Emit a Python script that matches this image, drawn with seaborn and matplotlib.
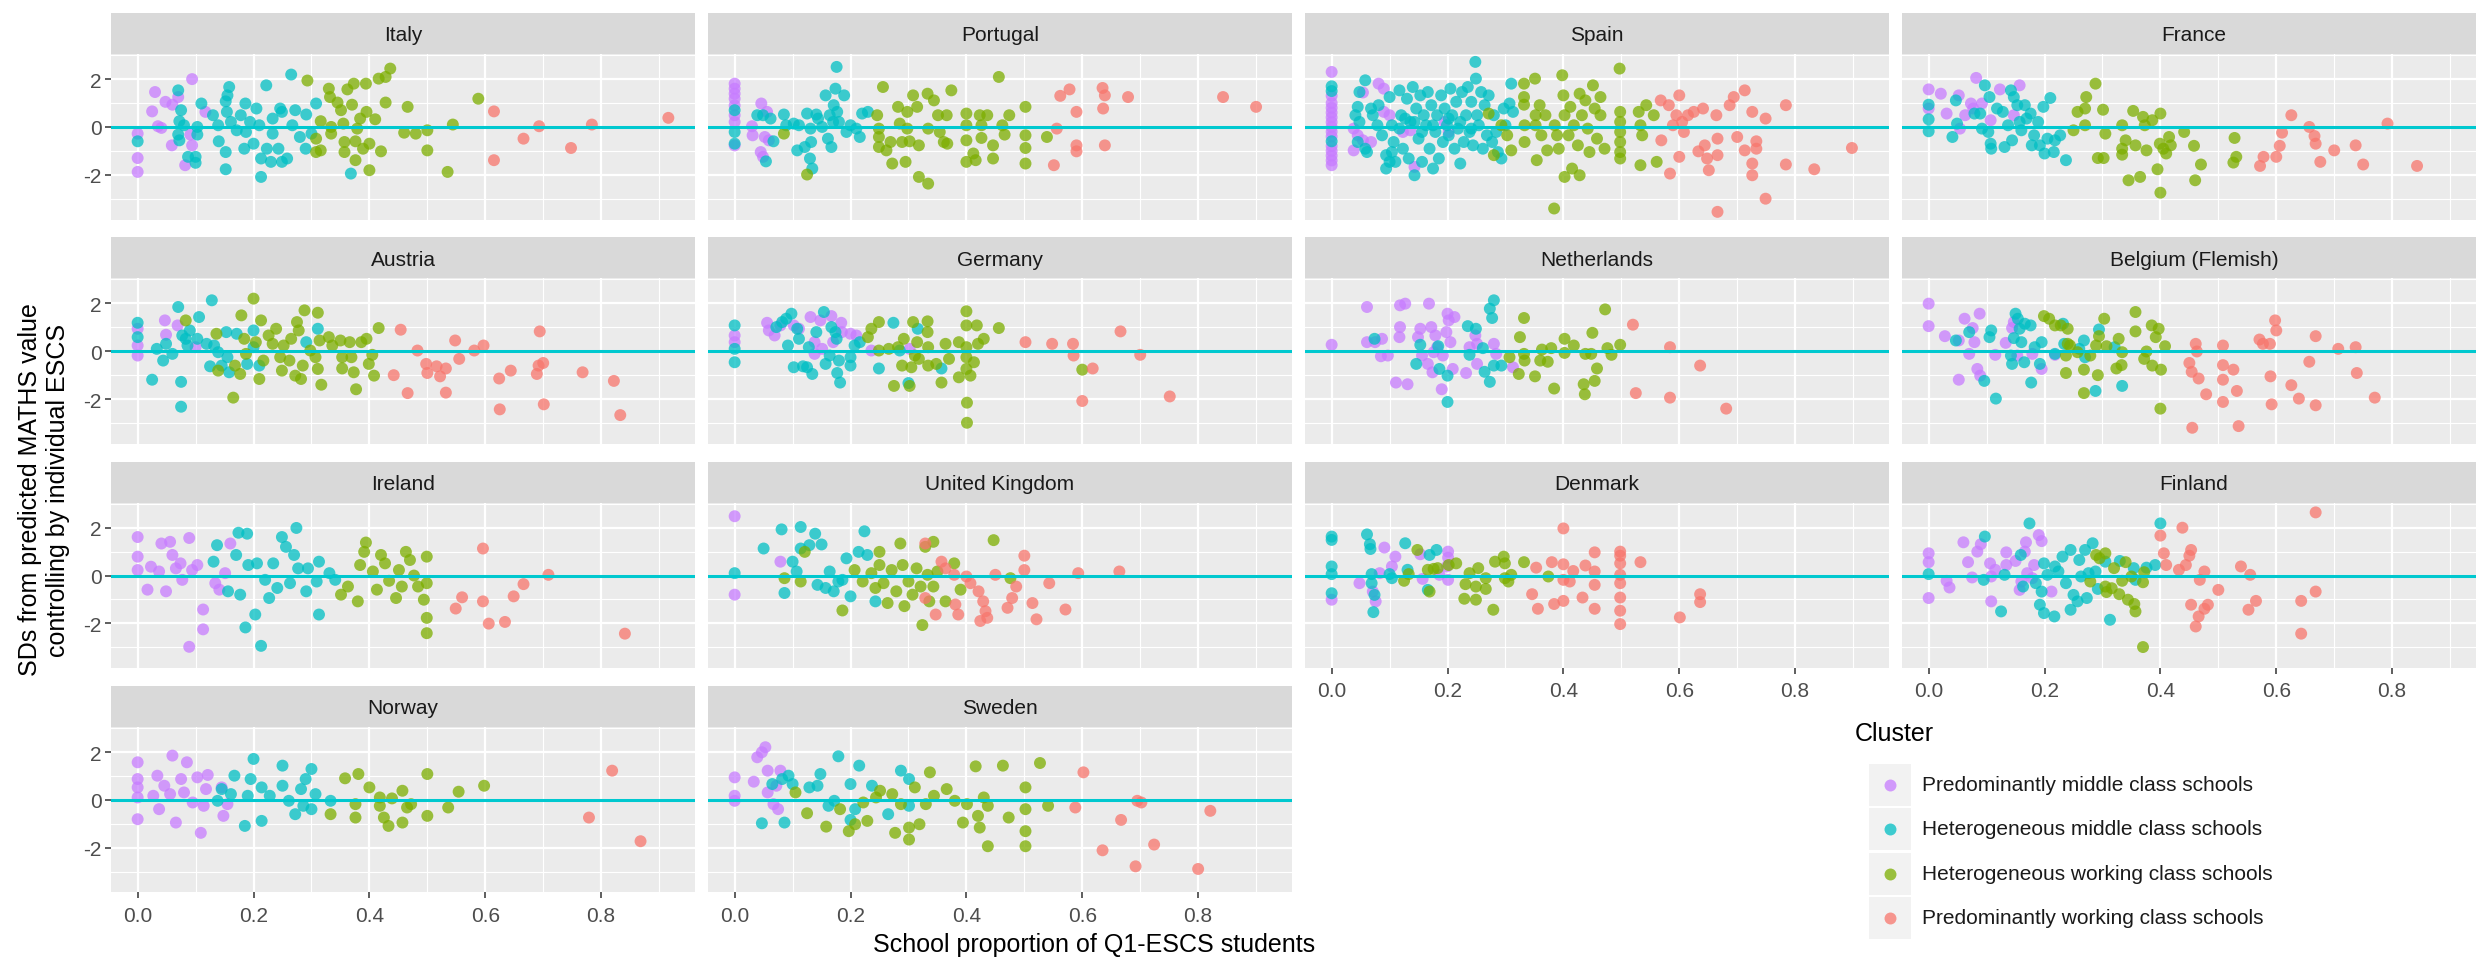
import numpy as np
import pandas as pd
import matplotlib
matplotlib.use("Agg")
import matplotlib.pyplot as plt
import seaborn as sns

# clusters (legend order) and their colours
CLUSTERS = ["Predominantly middle class schools", "Heterogeneous middle class schools",
            "Heterogeneous working class schools", "Predominantly working class schools"]
COLOURS = ["#C77CFF", "#00BFC4", "#7CAE00", "#F8766D"]

COUNTRIES = ["Italy", "Portugal", "Spain", "France", "Austria", "Germany", "Netherlands",
             "Belgium (Flemish)", "Ireland", "United Kingdom", "Denmark", "Finland",
             "Norway", "Sweden"]

X_TICKS = [0.0, 0.2, 0.4, 0.6, 0.8]
X_TICK_LABELS = ["0.0", "0.2", "0.4", "0.6", "0.8"]
Y_TICKS = [-2, 0, 2]
Y_TICK_LABELS = ["-2", "0", "2"]

# ---- points: [school proportion Q1, SD residual] ----
ITA_PMC = [[0.094,2.0],[0.03,1.46],[0.048,1.05],[0.06,0.93],[0.07,1.25],[0.025,0.65],[0.035,0.03],[0.041,-0.04],[0.0,-0.28],[0.0,-1.3],[0.0,-1.88],[0.059,-0.77],[0.082,-1.6],[0.091,-0.32],[0.094,-0.77],[0.117,0.63]]
ITA_HMC = [[0.0,-0.6],[0.07,1.53],[0.075,0.7],[0.072,0.24],[0.08,0.07],[0.07,-0.32],[0.072,-0.56],[0.087,-1.25],[0.1,-1.25],[0.1,-1.5],[0.103,0.0],[0.103,-0.32],[0.11,0.98],[0.13,0.49],[0.139,0.07],[0.14,-0.6],[0.152,1.07],[0.154,0.63],[0.152,-1.05],[0.152,-1.77],[0.158,1.67],[0.161,0.21],[0.155,1.32],[0.171,-0.14],[0.178,0.49],[0.184,-0.91],[0.186,0.98],[0.187,-0.21],[0.194,0.21],[0.2,-0.7],[0.205,0.77],[0.21,0.07],[0.213,-1.32],[0.213,-2.09],[0.222,1.74],[0.223,-0.91],[0.23,-1.46],[0.233,-0.28],[0.243,-0.91],[0.249,0.63],[0.249,-1.46],[0.258,-1.32],[0.265,2.19],[0.267,0.07],[0.272,0.7],[0.28,-0.42],[0.29,-0.91],[0.291,0.52],[0.3,-0.28],[0.308,0.98],[0.368,-1.95],[0.233,0.35],[0.246,0.77]]
ITA_HWC = [[0.293,1.94],[0.308,-1.05],[0.316,-0.98],[0.308,-0.49],[0.316,0.24],[0.33,1.6],[0.332,1.25],[0.334,0.0],[0.334,-0.28],[0.345,1.02],[0.351,0.7],[0.355,0.14],[0.357,-0.63],[0.357,-1.05],[0.362,1.57],[0.37,0.93],[0.373,1.81],[0.376,-1.39],[0.376,-0.6],[0.379,-0.07],[0.384,0.35],[0.389,-0.91],[0.394,1.81],[0.395,0.63],[0.4,-0.7],[0.4,-1.81],[0.41,0.32],[0.416,2.02],[0.428,2.09],[0.436,2.44],[0.428,1.02],[0.42,-1.02],[0.46,-0.24],[0.466,0.84],[0.48,-0.28],[0.5,-0.14],[0.5,-0.98],[0.535,-1.88],[0.544,0.1],[0.588,1.18]]
ITA_PWC = [[0.615,0.65],[0.615,-1.39],[0.666,-0.49],[0.693,0.03],[0.748,-0.88],[0.784,0.1],[0.916,0.38]]

POR_PMC = [[0.0,1.81],[0.0,1.6],[0.0,1.39],[0.0,1.18],[0.0,0.9],[0.0,0.49],[0.0,0.21],[0.0,-0.77],[0.03,0.03],[0.031,-0.35],[0.046,0.98],[0.056,0.63],[0.052,-0.42],[0.059,-0.56],[0.045,-1.05],[0.049,-1.25]]
POR_HMC = [[0.0,0.7],[0.0,-0.21],[0.0,-0.7],[0.054,-1.44],[0.039,0.49],[0.049,0.49],[0.062,0.35],[0.067,-0.6],[0.085,0.52],[0.089,0.07],[0.102,0.14],[0.108,-0.98],[0.111,0.07],[0.121,-0.84],[0.125,0.56],[0.13,-1.32],[0.132,-0.63],[0.134,-1.74],[0.131,-0.07],[0.141,0.52],[0.151,0.0],[0.157,1.32],[0.161,-0.49],[0.164,0.49],[0.167,-0.84],[0.171,0.91],[0.174,1.6],[0.176,2.51],[0.177,0.63],[0.18,0.21],[0.189,1.32],[0.193,-0.21],[0.2,0.07],[0.21,-0.07],[0.216,-0.42],[0.22,0.56],[0.23,0.63],[0.17,0.21],[0.144,0.35]]
POR_HWC = [[0.085,-0.28],[0.125,-1.99],[0.246,0.49],[0.249,-0.07],[0.249,-0.42],[0.249,-0.84],[0.256,1.67],[0.262,-0.98],[0.269,-0.63],[0.272,-1.53],[0.282,0.84],[0.285,0.14],[0.289,-0.63],[0.295,-1.46],[0.298,0.63],[0.298,-0.07],[0.302,-0.6],[0.308,1.32],[0.315,0.84],[0.318,-0.77],[0.318,-2.09],[0.334,-2.37],[0.334,-0.07],[0.333,1.39],[0.344,1.11],[0.351,0.49],[0.354,-0.21],[0.361,-0.63],[0.366,0.49],[0.374,1.53],[0.367,-0.7],[0.4,0.56],[0.4,0.07],[0.4,-0.56],[0.4,-1.46],[0.412,-1.11],[0.416,-1.39],[0.423,0.49],[0.426,0.07],[0.426,-0.46],[0.436,0.49],[0.446,-0.77],[0.446,-1.32],[0.456,2.09],[0.462,0.07],[0.466,-0.32],[0.474,0.49],[0.502,0.84],[0.502,-0.35],[0.502,-0.88],[0.502,-1.53],[0.539,-0.42]]
POR_PWC = [[0.551,-1.6],[0.556,-0.07],[0.562,1.3],[0.578,1.57],[0.59,0.63],[0.59,-0.77],[0.59,-1.02],[0.635,1.63],[0.639,1.32],[0.636,0.77],[0.639,-0.77],[0.679,1.25],[0.843,1.25],[0.9,0.84]]

ESP_PMC = [[0.0,2.3],[0.0,1.3],[0.0,1.0],[0.0,0.8],[0.0,0.6],[0.0,0.4],[0.0,0.2],[0.0,0.0],[0.0,-0.2],[0.0,-0.4],[0.0,-0.8],[0.0,-1.0],[0.0,-1.2],[0.0,-1.4],[0.0,-1.6],[0.054,1.44],[0.081,1.81],[0.09,1.6],[0.038,-0.07],[0.045,-0.35],[0.054,-0.56],[0.068,-0.63],[0.038,-0.98],[0.09,0.63],[0.1,0.49],[0.123,-0.21],[0.136,-0.14],[0.143,-1.67],[0.195,0.21],[0.202,-0.21]]
ESP_HMC = [[0.0,1.7],[0.0,1.5],[0.0,-0.6],[0.058,1.95],[0.048,1.46],[0.045,0.84],[0.041,0.49],[0.048,0.21],[0.045,-0.63],[0.058,-0.91],[0.061,-1.05],[0.071,0.49],[0.079,0.07],[0.087,-0.35],[0.094,-1.18],[0.094,-1.74],[0.1,1.25],[0.104,0.07],[0.107,-0.63],[0.11,-1.46],[0.117,1.53],[0.12,0.49],[0.123,-0.91],[0.13,1.18],[0.133,-1.32],[0.136,0.21],[0.14,1.67],[0.143,-2.02],[0.146,0.77],[0.15,-0.49],[0.153,1.32],[0.156,-1.46],[0.159,0.49],[0.163,0.07],[0.166,1.46],[0.169,-0.91],[0.172,0.91],[0.175,-1.74],[0.179,-0.21],[0.182,0.49],[0.185,-1.32],[0.189,1.32],[0.192,-0.63],[0.195,0.77],[0.199,0.07],[0.202,-0.35],[0.205,1.6],[0.208,0.49],[0.212,-0.91],[0.215,1.05],[0.218,-0.07],[0.222,-1.53],[0.225,1.46],[0.228,-0.63],[0.232,0.49],[0.235,1.67],[0.238,-0.21],[0.241,1.05],[0.244,-0.77],[0.248,2.72],[0.249,2.02],[0.251,0.49],[0.254,0.07],[0.258,1.46],[0.261,-0.91],[0.264,0.91],[0.268,-0.35],[0.271,1.32],[0.277,-0.63],[0.28,0.49],[0.284,-0.21],[0.287,-1.05],[0.293,-1.32],[0.297,0.77],[0.3,0.07],[0.307,0.98],[0.31,1.81],[0.313,0.63],[0.068,0.77],[0.081,0.91],[0.117,-0.07],[0.127,0.35],[0.143,0.21],[0.156,-0.21],[0.175,0.07],[0.202,0.35],[0.222,0.21],[0.241,-0.07],[0.104,-1.05],[0.1,-1.46]]
ESP_HWC = [[0.271,0.56],[0.28,-1.18],[0.293,0.07],[0.303,-0.35],[0.31,-0.98],[0.332,1.81],[0.332,1.25],[0.332,0.93],[0.333,0.07],[0.333,-0.63],[0.351,2.02],[0.352,0.49],[0.352,0.07],[0.354,-1.39],[0.359,0.91],[0.362,-0.35],[0.369,0.49],[0.372,-0.98],[0.384,-3.41],[0.385,0.07],[0.389,-0.35],[0.392,-0.91],[0.398,2.16],[0.4,1.32],[0.402,0.49],[0.402,-2.09],[0.409,-0.35],[0.412,0.84],[0.415,-1.74],[0.418,0.07],[0.425,-0.77],[0.428,1.39],[0.428,-2.02],[0.432,0.49],[0.438,1.11],[0.442,-0.07],[0.445,-1.05],[0.451,1.74],[0.454,0.77],[0.458,-0.49],[0.464,1.25],[0.464,0.49],[0.471,-0.91],[0.497,2.44],[0.498,0.63],[0.498,0.21],[0.498,-0.21],[0.498,-0.63],[0.498,-1.05],[0.498,-1.32],[0.53,0.63],[0.533,0.07],[0.533,-1.6],[0.536,-0.35],[0.543,0.91],[0.556,0.49],[0.561,-1.46]]
ESP_PWC = [[0.568,1.11],[0.569,-0.56],[0.582,0.91],[0.584,-1.95],[0.589,0.07],[0.595,0.49],[0.6,1.32],[0.6,-1.25],[0.605,0.21],[0.608,-0.21],[0.615,0.49],[0.625,0.63],[0.633,-1.02],[0.641,0.77],[0.644,-0.77],[0.648,-1.32],[0.651,-1.81],[0.664,0.49],[0.666,-0.49],[0.666,-1.18],[0.666,-3.55],[0.687,0.91],[0.694,1.25],[0.7,-0.42],[0.713,1.53],[0.713,-0.98],[0.726,0.63],[0.726,-1.53],[0.726,-2.02],[0.733,-0.6],[0.733,-0.91],[0.749,0.35],[0.749,-3.0],[0.784,0.91],[0.784,-1.57],[0.833,-1.77],[0.898,-0.88]]

FRA_PMC = [[0.0,1.57],[0.0,0.77],[0.021,1.39],[0.031,0.56],[0.052,1.32],[0.054,-0.07],[0.063,0.49],[0.073,0.98],[0.082,2.05],[0.092,0.98],[0.107,0.28],[0.123,1.57],[0.157,1.74],[0.147,0.49],[0.077,0.77]]
FRA_HMC = [[0.0,0.93],[0.0,0.32],[0.0,-0.18],[0.041,-0.42],[0.047,1.11],[0.049,0.14],[0.089,0.56],[0.092,-0.07],[0.097,1.74],[0.103,-0.21],[0.105,1.25],[0.107,-0.7],[0.108,-0.91],[0.118,0.77],[0.128,0.63],[0.131,-0.84],[0.137,0.07],[0.142,1.53],[0.144,-0.56],[0.147,1.25],[0.153,0.91],[0.157,0.21],[0.16,-0.14],[0.166,0.91],[0.169,0.35],[0.176,0.56],[0.178,-0.77],[0.182,-0.35],[0.189,0.21],[0.192,-0.77],[0.198,0.84],[0.2,-1.11],[0.205,-0.49],[0.21,1.21],[0.216,-1.05],[0.218,-0.56],[0.227,-0.35],[0.237,-1.39],[0.079,0.56]]
FRA_HWC = [[0.25,-0.14],[0.257,0.63],[0.27,0.77],[0.27,0.07],[0.272,1.25],[0.288,1.81],[0.292,-1.3],[0.301,0.72],[0.302,-1.3],[0.305,-0.28],[0.334,0.07],[0.334,-0.91],[0.334,-1.16],[0.34,-0.56],[0.345,-2.23],[0.353,0.67],[0.357,-0.77],[0.365,-2.09],[0.37,0.42],[0.373,0.07],[0.376,-0.98],[0.386,0.28],[0.395,-1.77],[0.399,-0.7],[0.4,0.56],[0.4,-2.75],[0.405,-0.91],[0.41,-1.11],[0.415,-0.42],[0.418,-0.77],[0.441,-0.21],[0.458,-0.79],[0.46,-2.23],[0.47,-1.57],[0.528,-0.46],[0.531,-1.25],[0.526,-1.49]]
FRA_PWC = [[0.572,-1.63],[0.578,-1.25],[0.6,-1.25],[0.606,-0.79],[0.61,-0.24],[0.626,0.49],[0.657,0.0],[0.666,-0.38],[0.668,-0.7],[0.676,-1.46],[0.7,-0.98],[0.737,-0.77],[0.75,-1.57],[0.792,0.14],[0.843,-1.63]]

AUT_PMC = [[0.0,0.94],[0.0,0.24],[0.0,-0.18],[0.047,1.29],[0.049,0.69],[0.069,1.08],[0.1,0.17]]
AUT_HMC = [[0.0,1.19],[0.0,0.59],[0.025,-1.19],[0.033,0.1],[0.044,-0.39],[0.049,0.31],[0.06,-0.11],[0.07,1.85],[0.075,-1.28],[0.075,-2.32],[0.077,0.66],[0.086,0.24],[0.09,0.87],[0.103,0.52],[0.106,1.43],[0.119,0.31],[0.125,-0.63],[0.128,2.13],[0.132,0.24],[0.139,-0.04],[0.145,-0.6],[0.153,0.8],[0.155,-0.25],[0.158,-0.88],[0.171,0.73],[0.189,-0.53],[0.2,0.87],[0.2,0.17],[0.21,-0.6],[0.291,0.38],[0.311,0.94],[0.083,0.52]]
AUT_HWC = [[0.083,1.29],[0.136,0.73],[0.139,-0.81],[0.165,-1.94],[0.168,-0.6],[0.177,-0.95],[0.179,1.5],[0.184,0.52],[0.187,-0.11],[0.2,2.2],[0.204,0.38],[0.21,-1.16],[0.213,1.29],[0.217,-0.39],[0.226,0.66],[0.233,0.31],[0.239,0.94],[0.246,-0.25],[0.249,-0.81],[0.252,0.24],[0.262,-0.39],[0.265,0.52],[0.272,-1.02],[0.275,1.22],[0.278,0.87],[0.282,-1.16],[0.285,-0.6],[0.288,1.71],[0.298,0.03],[0.307,-0.25],[0.311,1.61],[0.311,-0.74],[0.314,0.45],[0.317,-1.4],[0.33,0.59],[0.336,0.24],[0.35,0.45],[0.353,-0.25],[0.353,-0.72],[0.366,0.38],[0.369,-0.25],[0.373,-0.88],[0.377,-1.59],[0.386,0.38],[0.395,0.52],[0.399,-0.53],[0.405,-0.15],[0.408,-1.02],[0.416,0.97]]
AUT_PWC = [[0.442,-1.0],[0.454,0.9],[0.466,-1.75],[0.483,0.03],[0.498,-0.53],[0.5,-0.91],[0.516,-0.63],[0.522,-1.05],[0.532,-0.72],[0.532,-1.73],[0.548,0.45],[0.555,-0.32],[0.581,0.03],[0.597,0.24],[0.624,-1.14],[0.625,-2.43],[0.644,-0.81],[0.689,-0.95],[0.692,-0.6],[0.694,0.83],[0.7,-0.49],[0.701,-2.22],[0.768,-0.88],[0.822,-1.24],[0.833,-2.67]]

DEU_PMC = [[0.0,0.66],[0.0,0.38],[0.056,1.19],[0.059,0.87],[0.069,0.66],[0.079,1.08],[0.102,1.08],[0.111,0.94],[0.131,1.43],[0.138,0.38],[0.138,-0.11],[0.148,1.29],[0.151,0.1],[0.167,1.47],[0.17,0.38],[0.184,1.19],[0.185,0.8],[0.2,0.73],[0.21,0.66],[0.236,0.03],[0.302,0.1]]
DEU_HMC = [[0.0,1.08],[0.0,0.1],[0.0,-0.46],[0.072,1.01],[0.082,1.22],[0.089,1.36],[0.092,0.24],[0.098,1.57],[0.102,-0.67],[0.108,0.94],[0.111,0.52],[0.118,-0.63],[0.125,-0.67],[0.128,0.17],[0.134,-0.95],[0.141,0.8],[0.154,1.64],[0.157,-0.53],[0.164,-0.18],[0.167,1.01],[0.174,0.8],[0.176,0.52],[0.177,-0.91],[0.18,-0.39],[0.182,-1.31],[0.2,-0.25],[0.2,-0.6],[0.207,0.24],[0.216,0.38],[0.249,-0.72],[0.274,1.19],[0.285,0.03],[0.3,-1.33],[0.316,0.94],[0.357,-0.72]]
DEU_HWC = [[0.23,0.59],[0.236,0.94],[0.249,1.22],[0.249,0.03],[0.266,0.1],[0.275,-1.45],[0.282,0.17],[0.289,-0.6],[0.292,0.52],[0.302,-1.45],[0.305,-0.67],[0.308,1.22],[0.311,-0.18],[0.315,0.38],[0.318,-0.32],[0.333,1.25],[0.333,0.8],[0.334,0.17],[0.334,-0.6],[0.348,-0.53],[0.357,-1.31],[0.364,0.31],[0.37,-0.32],[0.387,0.38],[0.387,-1.09],[0.4,1.67],[0.4,1.08],[0.4,0.17],[0.4,-0.25],[0.4,-0.74],[0.401,-2.15],[0.401,-2.99],[0.407,-1.02],[0.413,-0.46],[0.418,1.08],[0.42,0.31],[0.43,0.52],[0.456,0.97],[0.6,-0.77]]
DEU_PWC = [[0.502,0.38],[0.548,0.31],[0.584,0.31],[0.585,-0.18],[0.6,-2.08],[0.618,-0.72],[0.666,0.83],[0.7,-0.15],[0.751,-1.89]]

NLD_PMC = [[0.0,0.27],[0.061,1.85],[0.061,0.38],[0.075,0.38],[0.087,0.52],[0.085,-0.21],[0.097,-0.18],[0.111,-1.31],[0.117,0.59],[0.118,1.01],[0.118,1.92],[0.127,1.99],[0.131,-1.38],[0.149,0.59],[0.153,0.94],[0.156,-0.18],[0.166,-0.53],[0.168,1.99],[0.172,1.01],[0.174,-0.88],[0.179,0.66],[0.182,0.17],[0.19,-1.59],[0.192,-0.18],[0.198,0.8],[0.2,1.57],[0.202,1.29],[0.205,0.38],[0.209,-0.74],[0.212,1.43],[0.232,-0.91],[0.238,0.17],[0.248,0.66],[0.251,0.31],[0.251,-0.53],[0.28,0.31],[0.284,-0.11],[0.313,-0.67],[0.176,-0.04]]
NLD_HMC = [[0.074,0.52],[0.146,-0.53],[0.153,0.27],[0.184,0.21],[0.186,-0.74],[0.2,-1.02],[0.2,-2.12],[0.235,1.05],[0.238,-0.15],[0.249,0.94],[0.261,0.13],[0.264,-0.86],[0.273,-1.28],[0.273,1.78],[0.277,1.39],[0.28,2.13],[0.28,-0.6],[0.293,-0.6]]
NLD_HWC = [[0.307,-0.25],[0.323,-0.95],[0.325,0.59],[0.332,1.39],[0.332,-0.11],[0.333,-0.39],[0.351,-1.05],[0.36,-0.39],[0.363,0.07],[0.373,-0.44],[0.379,0.13],[0.384,-1.56],[0.402,0.52],[0.402,-0.07],[0.418,0.24],[0.435,-1.38],[0.437,-1.8],[0.438,-0.11],[0.448,-0.11],[0.45,0.77],[0.454,-1.24],[0.458,-0.72],[0.472,1.75],[0.476,0.13],[0.483,-0.15],[0.498,0.27]]
NLD_PWC = [[0.52,1.11],[0.525,-1.75],[0.584,0.17],[0.584,-1.94],[0.636,-0.6],[0.681,-2.4]]

BEL_PMC = [[0.0,1.99],[0.0,1.05],[0.028,0.63],[0.052,0.45],[0.052,-1.19],[0.062,1.36],[0.07,-0.11],[0.076,0.97],[0.079,0.38],[0.084,-0.74],[0.088,1.57],[0.089,-1.02],[0.115,-0.15],[0.133,0.35],[0.144,0.97],[0.147,1.22],[0.153,-0.18],[0.179,-0.11],[0.195,-0.74],[0.218,-0.15]]
BEL_HMC = [[0.047,0.45],[0.07,0.8],[0.096,-1.24],[0.105,0.59],[0.108,0.87],[0.116,-1.98],[0.142,-0.18],[0.144,-0.53],[0.147,0.55],[0.15,1.57],[0.154,1.36],[0.157,0.94],[0.16,0.38],[0.165,-0.46],[0.166,1.15],[0.176,1.08],[0.177,-1.31],[0.183,0.17],[0.192,-0.53],[0.195,0.38],[0.218,-0.11],[0.232,1.15],[0.234,0.31],[0.26,0.1],[0.268,0.45],[0.27,-0.25],[0.288,-1.66],[0.294,0.91],[0.321,0.17],[0.334,-1.45]]
BEL_HWC = [[0.199,1.47],[0.208,1.36],[0.218,1.08],[0.228,1.08],[0.237,-0.18],[0.237,-0.91],[0.24,0.94],[0.24,0.31],[0.244,0.24],[0.257,-0.04],[0.268,-0.77],[0.268,-1.75],[0.279,-0.18],[0.289,0.24],[0.292,-1.0],[0.294,0.63],[0.303,1.36],[0.307,0.21],[0.324,-0.72],[0.328,0.52],[0.333,-0.58],[0.334,-0.04],[0.357,1.64],[0.357,0.83],[0.372,-0.32],[0.376,-0.01],[0.385,1.08],[0.386,-0.6],[0.392,0.59],[0.397,0.94],[0.401,-0.77],[0.4,-2.4],[0.408,0.21]]
BEL_PWC = [[0.45,-0.49],[0.454,-0.86],[0.461,0.31],[0.463,-0.01],[0.466,-1.14],[0.455,-3.2],[0.479,-1.8],[0.508,0.24],[0.508,-0.58],[0.508,-1.19],[0.508,-2.12],[0.526,-0.77],[0.532,-1.66],[0.535,-3.13],[0.571,0.49],[0.577,0.31],[0.59,-1.05],[0.592,-2.22],[0.589,0.31],[0.598,1.29],[0.6,0.87],[0.626,-1.42],[0.639,-1.98],[0.657,-0.44],[0.668,0.63],[0.668,-2.26],[0.707,0.1],[0.737,0.17],[0.739,-0.91],[0.77,-1.94]]

IRL_PMC = [[0.0,1.61],[0.0,0.79],[0.0,0.23],[0.017,-0.59],[0.023,0.37],[0.037,0.17],[0.041,1.34],[0.049,-0.66],[0.056,1.41],[0.06,0.86],[0.066,0.3],[0.074,0.51],[0.077,-0.18],[0.089,1.57],[0.089,-2.98],[0.094,0.23],[0.103,0.44],[0.113,-2.25],[0.113,-1.42],[0.134,-0.32],[0.141,-0.59],[0.16,1.34],[0.151,0.1]]
IRL_HMC = [[0.137,1.27],[0.131,0.58],[0.156,-0.66],[0.17,0.86],[0.174,1.79],[0.177,-0.8],[0.186,-2.17],[0.189,1.75],[0.191,0.44],[0.203,-1.63],[0.206,0.51],[0.213,-2.94],[0.22,-0.18],[0.227,-0.94],[0.234,0.51],[0.241,-0.52],[0.249,1.61],[0.256,1.2],[0.263,-0.32],[0.27,0.86],[0.274,1.99],[0.277,0.3],[0.291,-0.66],[0.294,0.3],[0.309,-0.25],[0.313,-1.63],[0.313,0.58],[0.331,0.1],[0.341,-0.18]]
IRL_HWC = [[0.351,-0.8],[0.363,-0.46],[0.38,-1.08],[0.384,0.44],[0.391,0.99],[0.394,1.38],[0.406,0.17],[0.413,-0.59],[0.42,0.86],[0.427,0.51],[0.434,-0.22],[0.446,-0.94],[0.451,0.23],[0.456,-0.46],[0.463,0.99],[0.47,0.65],[0.477,0.0],[0.484,-0.46],[0.494,-1.01],[0.499,0.79],[0.499,-0.32],[0.499,-1.77],[0.499,-2.41]]
IRL_PWC = [[0.549,-1.38],[0.56,-0.91],[0.596,1.13],[0.596,-1.08],[0.606,-2.01],[0.634,-1.94],[0.649,-0.87],[0.666,-0.36],[0.709,0.03],[0.841,-2.43]]

GBR_PMC = [[0.0,2.48],[0.0,-0.8],[0.079,0.58]]
GBR_HMC = [[0.0,0.1],[0.05,1.13],[0.081,1.93],[0.086,-0.73],[0.1,0.58],[0.107,0.17],[0.114,2.03],[0.114,1.13],[0.129,1.27],[0.139,1.75],[0.143,-0.39],[0.15,1.3],[0.157,-0.52],[0.164,0.17],[0.171,-0.66],[0.186,-0.18],[0.193,0.72],[0.2,-0.87],[0.214,0.99],[0.224,1.85],[0.229,0.86],[0.243,-1.08],[0.179,-0.25]]
GBR_HWC = [[0.086,-0.11],[0.114,-0.25],[0.121,0.99],[0.186,-1.46],[0.207,0.23],[0.221,-0.25],[0.236,0.1],[0.243,-0.52],[0.25,0.99],[0.25,0.44],[0.257,-0.32],[0.264,-1.15],[0.271,0.23],[0.279,-0.66],[0.286,1.34],[0.29,0.44],[0.293,-1.28],[0.3,-0.25],[0.307,-0.8],[0.314,0.3],[0.321,-0.46],[0.324,-2.07],[0.329,1.2],[0.333,0.03],[0.336,-1.08],[0.343,1.41],[0.343,-0.46],[0.35,0.17],[0.364,-1.08],[0.379,0.51],[0.39,-0.59],[0.447,1.48],[0.476,-0.11]]
GBR_PWC = [[0.329,1.34],[0.329,-0.94],[0.347,-1.63],[0.357,0.58],[0.364,0.3],[0.379,0.03],[0.381,-1.21],[0.386,-1.63],[0.4,-0.04],[0.407,-0.32],[0.421,-0.66],[0.424,-1.9],[0.429,-1.08],[0.433,-1.49],[0.436,-1.77],[0.45,0.03],[0.471,-1.35],[0.479,-0.94],[0.486,-0.46],[0.5,0.23],[0.5,0.83],[0.514,-1.15],[0.521,-1.83],[0.543,-0.32],[0.571,-1.42],[0.593,0.1],[0.664,0.17]]

DNK_PMC = [[0.0,-1.01],[0.048,-0.32],[0.071,-0.67],[0.076,-1.08],[0.083,0.1],[0.091,1.17],[0.104,0.38],[0.11,0.79],[0.153,0.89],[0.157,-0.14],[0.186,0.03],[0.201,1.0],[0.201,0.75],[0.201,-0.18],[0.199,0.38]]
DNK_HMC = [[0.0,1.63],[0.0,1.49],[0.0,0.38],[0.0,0.06],[0.0,-0.74],[0.061,1.72],[0.066,1.31],[0.067,1.11],[0.069,0.06],[0.069,-0.32],[0.072,-1.53],[0.074,-0.81],[0.1,0.06],[0.104,-0.11],[0.127,1.35],[0.131,0.24],[0.166,-0.6],[0.169,0.86],[0.181,1.07]]
DNK_HWC = [[0.125,-0.22],[0.133,0.06],[0.148,1.07],[0.166,0.24],[0.169,-0.67],[0.176,0.28],[0.183,0.31],[0.202,0.44],[0.215,0.51],[0.229,-0.97],[0.231,-0.36],[0.238,0.1],[0.249,-1.01],[0.249,-0.46],[0.253,0.31],[0.266,-0.11],[0.266,-0.56],[0.279,-1.43],[0.282,0.58],[0.297,0.79],[0.299,0.51],[0.299,-0.11],[0.305,-0.25],[0.31,0.03],[0.332,0.56],[0.374,-0.04]]
DNK_PWC = [[0.346,-0.78],[0.353,0.33],[0.356,-1.39],[0.38,0.56],[0.384,-1.19],[0.4,1.97],[0.4,0.47],[0.4,-0.18],[0.4,-1.06],[0.411,-0.25],[0.417,0.19],[0.433,-0.92],[0.438,0.42],[0.454,0.97],[0.454,0.17],[0.454,-0.39],[0.454,-1.39],[0.498,1.0],[0.498,0.83],[0.498,0.51],[0.498,0.03],[0.498,-0.32],[0.498,-0.92],[0.498,-1.47],[0.498,-2.03],[0.533,0.56],[0.601,-1.75],[0.636,-0.78],[0.636,-1.11]]

FIN_PMC = [[0.0,0.93],[0.0,0.56],[0.0,-0.94],[0.031,-0.22],[0.036,-0.5],[0.06,1.39],[0.068,0.56],[0.075,-0.08],[0.084,1.0],[0.09,1.31],[0.106,0.51],[0.108,-1.08],[0.108,-0.04],[0.115,0.24],[0.134,0.97],[0.134,0.44],[0.15,0.61],[0.157,-0.6],[0.16,-0.25],[0.166,1.0],[0.168,1.39],[0.17,0.1],[0.182,0.44],[0.19,1.69],[0.195,1.44],[0.212,-0.67],[0.179,-0.11]]
FIN_HMC = [[0.0,0.06],[0.095,-0.18],[0.097,1.63],[0.125,-1.5],[0.131,0.03],[0.159,0.86],[0.163,-0.46],[0.174,2.18],[0.185,-0.32],[0.192,-1.22],[0.195,-0.67],[0.199,-1.57],[0.199,0.51],[0.205,0.03],[0.217,-1.71],[0.218,0.38],[0.224,0.17],[0.231,0.79],[0.237,-0.32],[0.245,1.07],[0.245,-1.43],[0.25,-0.81],[0.257,-1.08],[0.26,0.65],[0.263,-0.04],[0.27,1.07],[0.273,-0.94],[0.276,0.1],[0.283,1.35],[0.288,0.17],[0.292,-0.56],[0.305,0.58],[0.313,-1.85],[0.33,0.61],[0.354,0.31],[0.357,-0.18],[0.376,0.33],[0.391,0.44],[0.4,2.18]]
FIN_HWC = [[0.279,-0.25],[0.289,0.86],[0.295,0.72],[0.305,0.93],[0.305,-0.46],[0.307,-0.69],[0.316,-0.53],[0.32,0.31],[0.329,-0.78],[0.334,-0.22],[0.34,0.56],[0.344,-1.01],[0.35,-0.04],[0.355,-1.19],[0.357,-1.5],[0.37,-0.28],[0.372,0.14],[0.37,-2.99]]
FIN_PWC = [[0.4,1.67],[0.406,0.93],[0.41,0.44],[0.432,0.24],[0.438,2.0],[0.444,0.44],[0.45,0.83],[0.453,1.07],[0.453,-1.22],[0.461,-2.13],[0.466,-1.71],[0.468,-0.18],[0.476,0.17],[0.476,-1.39],[0.482,-1.22],[0.5,-0.6],[0.539,0.38],[0.552,-1.43],[0.555,0.03],[0.565,-1.06],[0.643,-1.06],[0.643,-2.43],[0.668,-0.67],[0.668,2.64]]

NOR_PMC = [[0.0,1.57],[0.0,0.87],[0.0,0.52],[0.0,0.1],[0.0,-0.81],[0.027,0.17],[0.034,1.01],[0.037,-0.39],[0.046,0.59],[0.056,0.24],[0.06,1.85],[0.066,-0.95],[0.075,0.87],[0.08,0.31],[0.085,1.57],[0.095,-0.11],[0.103,0.94],[0.109,-1.38],[0.114,-0.25],[0.118,0.45],[0.121,1.04],[0.145,0.52],[0.148,-0.67],[0.155,-0.18]]
NOR_HMC = [[0.138,-0.04],[0.145,0.45],[0.161,0.24],[0.167,1.01],[0.185,-1.09],[0.19,0.17],[0.195,0.87],[0.2,1.71],[0.214,-0.88],[0.214,0.52],[0.228,0.17],[0.25,1.43],[0.25,0.59],[0.261,-0.04],[0.272,-0.6],[0.282,0.45],[0.286,-0.25],[0.29,0.87],[0.3,1.29],[0.3,-0.39],[0.307,0.24],[0.333,-0.04]]
NOR_HWC = [[0.333,-0.6],[0.358,0.9],[0.376,-0.18],[0.376,-0.74],[0.381,1.08],[0.4,0.52],[0.418,0.1],[0.418,-0.25],[0.425,-0.74],[0.433,-1.09],[0.439,0.06],[0.457,-0.95],[0.457,0.38],[0.465,-0.32],[0.472,-0.18],[0.5,1.08],[0.5,-0.67],[0.536,-0.32],[0.554,0.34],[0.598,0.59]]
NOR_PWC = [[0.779,-0.74],[0.819,1.22],[0.868,-1.73]]

SWE_PMC = [[0.0,0.94],[0.0,0.17],[0.0,-0.04],[0.033,0.76],[0.039,1.78],[0.047,1.99],[0.053,2.2],[0.057,1.22],[0.057,0.31],[0.067,-0.18],[0.075,-0.39],[0.079,1.22],[0.072,0.59]]
SWE_HMC = [[0.047,-0.98],[0.065,0.66],[0.082,0.87],[0.086,-0.95],[0.093,1.01],[0.1,0.66],[0.129,0.52],[0.143,0.59],[0.148,1.08],[0.162,-0.25],[0.172,-0.04],[0.179,1.82],[0.2,0.66],[0.2,-0.84],[0.215,1.43],[0.208,-0.39],[0.237,0.59],[0.265,-0.6],[0.287,1.22],[0.301,0.87],[0.301,-0.25]]
SWE_HWC = [[0.105,0.31],[0.125,-0.56],[0.158,-1.12],[0.182,-0.39],[0.197,-1.31],[0.208,-1.02],[0.222,-0.11],[0.229,-0.88],[0.244,0.1],[0.251,0.38],[0.272,0.24],[0.277,-1.38],[0.287,-0.18],[0.301,-1.16],[0.301,-1.66],[0.311,0.52],[0.319,-1.02],[0.33,-0.18],[0.337,1.15],[0.344,0.17],[0.366,0.45],[0.38,-0.04],[0.401,-0.18],[0.394,-0.95],[0.416,1.4],[0.42,-0.67],[0.423,-1.16],[0.43,0.1],[0.437,-1.94],[0.437,-0.25],[0.463,1.43],[0.473,-0.74],[0.502,0.52],[0.502,-0.39],[0.502,-1.31],[0.502,-1.94],[0.527,1.54],[0.541,-0.25]]
SWE_PWC = [[0.588,-0.32],[0.602,1.15],[0.635,-2.11],[0.667,-0.84],[0.692,-2.78],[0.695,-0.04],[0.702,-0.11],[0.724,-1.87],[0.8,-2.89],[0.821,-0.46]]

PANELS = [
    [ITA_PMC, ITA_HMC, ITA_HWC, ITA_PWC], [POR_PMC, POR_HMC, POR_HWC, POR_PWC],
    [ESP_PMC, ESP_HMC, ESP_HWC, ESP_PWC], [FRA_PMC, FRA_HMC, FRA_HWC, FRA_PWC],
    [AUT_PMC, AUT_HMC, AUT_HWC, AUT_PWC], [DEU_PMC, DEU_HMC, DEU_HWC, DEU_PWC],
    [NLD_PMC, NLD_HMC, NLD_HWC, NLD_PWC], [BEL_PMC, BEL_HMC, BEL_HWC, BEL_PWC],
    [IRL_PMC, IRL_HMC, IRL_HWC, IRL_PWC], [GBR_PMC, GBR_HMC, GBR_HWC, GBR_PWC],
    [DNK_PMC, DNK_HMC, DNK_HWC, DNK_PWC], [FIN_PMC, FIN_HMC, FIN_HWC, FIN_PWC],
    [NOR_PMC, NOR_HMC, NOR_HWC, NOR_PWC], [SWE_PMC, SWE_HMC, SWE_HWC, SWE_PWC],
]


def panel_frame(groups):
    frames = []
    for name, pts in zip(CLUSTERS, groups):
        a = np.array(pts, dtype=float)
        frames.append(pd.DataFrame({"x": a[:, 0], "y": a[:, 1], "cluster": name}))
    return pd.concat(frames, ignore_index=True)


plt.rcParams["font.family"] = ["Liberation Sans", "DejaVu Sans"]

W, H = 2476, 962
fig = plt.figure(figsize=(W / 100, H / 100), dpi=100)

COL_LEFT = [111, 708, 1305, 1902]
PANEL_W = 584
PANEL_H = 165.5
ROW_TOP = [55, 279.3, 503.6, 727.9]
STRIP_H = 41
TXT = 15
PT_SIZE = 74
palette = dict(zip(CLUSTERS, COLOURS))

for i, (country, groups) in enumerate(zip(COUNTRIES, PANELS)):
    r, c = divmod(i, 4)
    left, top = COL_LEFT[c], ROW_TOP[r]
    ax = fig.add_axes([left / W, 1 - (top + PANEL_H) / H, PANEL_W / W, PANEL_H / H])
    ax.set_facecolor("#EBEBEB")
    df = panel_frame(groups)
    sns.scatterplot(data=df, x="x", y="y", hue="cluster", hue_order=CLUSTERS,
                    palette=palette, s=PT_SIZE, alpha=0.75, linewidth=0, legend=False,
                    ax=ax, zorder=3)
    ax.axhline(0, color="#00C8CF", lw=2.2, zorder=4)

    ax.set_xlim(-0.046, 0.962)
    ax.set_ylim(-3.87, 3.05)
    ax.set_xticks(X_TICKS)
    ax.set_xticks(np.arange(0.1, 1.0, 0.2), minor=True)
    ax.set_yticks(Y_TICKS)
    ax.set_yticks([-3, -1, 1, 3], minor=True)
    ax.grid(which="major", color="white", lw=1.6)
    ax.grid(which="minor", color="white", lw=0.8)
    ax.set_axisbelow(True)
    for sp in ax.spines.values():
        sp.set_visible(False)
    ax.set_xlabel("")
    ax.set_ylabel("")

    bottom = i >= 10
    first_col = c == 0
    ax.tick_params(which="minor", length=0)
    ax.tick_params(axis="x", which="major", length=4.5 if bottom else 0, width=1.1,
                   color="#333333", labelsize=TXT, labelcolor="#4D4D4D", pad=5,
                   labelbottom=bottom)
    ax.tick_params(axis="y", which="major", length=4.5 if first_col else 0, width=1.1,
                   color="#333333", labelsize=TXT, labelcolor="#4D4D4D", pad=2,
                   labelleft=first_col)
    ax.set_xticklabels(X_TICK_LABELS)
    ax.set_yticklabels(Y_TICK_LABELS)

    sax = fig.add_axes([left / W, 1 - top / H, PANEL_W / W, STRIP_H / H])
    sax.set_facecolor("#D9D9D9")
    sax.set_xticks([])
    sax.set_yticks([])
    for sp in sax.spines.values():
        sp.set_visible(False)
    sax.text(0.5, 0.47, country, ha="center", va="center", fontsize=TXT,
             color="#1A1A1A", transform=sax.transAxes)

# axis titles
fig.text(1094 / W, 1 - 945 / H, "School proportion of Q1-ESCS students",
         ha="center", va="center", fontsize=18)
fig.text(44 / W, 1 - 490 / H,
         "SDs from predicted MATHS value\ncontrolling by individual ESCS",
         ha="center", va="center", rotation=90, fontsize=18, linespacing=1.2)

# legend in the empty facet slots
lax = fig.add_axes([0, 0, 1, 1])
lax.set_xlim(0, W)
lax.set_ylim(H, 0)
lax.axis("off")
lax.text(1855, 734, "Cluster", ha="left", va="center", fontsize=18)
key_y = [786, 830, 875, 919]
for name, col, yk in zip(CLUSTERS, COLOURS, key_y):
    lax.add_patch(plt.Rectangle((1869, yk - 21), 42, 42, facecolor="#F2F2F2",
                                edgecolor="none"))
    lax.scatter([1890], [yk], s=PT_SIZE, color=col, alpha=0.75, linewidths=0)
    lax.text(1922, yk, name, ha="left", va="center", fontsize=TXT, color="#1A1A1A")

fig.savefig("out.png", dpi=100)
